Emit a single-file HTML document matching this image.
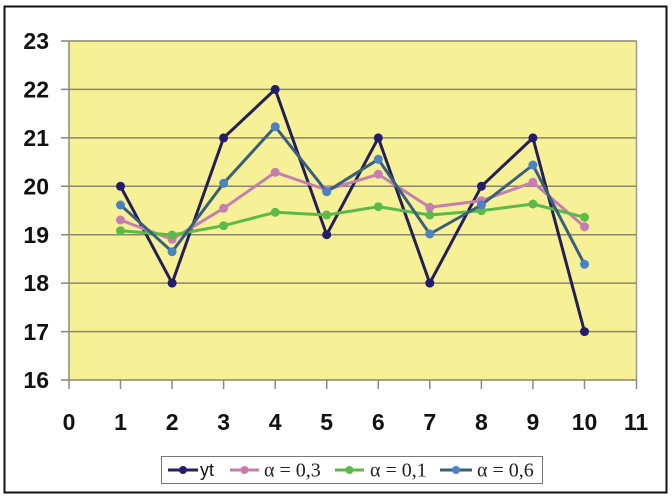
<!DOCTYPE html>
<html><head><meta charset="utf-8"><style>
html,body{margin:0;padding:0;background:#fff;}
svg{display:block;}
</style></head><body>
<svg width="672" height="500" viewBox="0 0 672 500" xmlns="http://www.w3.org/2000/svg">
<rect x="0" y="0" width="672" height="500" fill="#fff"/>
<rect x="4.5" y="6.5" width="662" height="486" fill="#fff" stroke="#111" stroke-width="2"/>
<!-- plot area -->
<rect x="69" y="41" width="567.5" height="339" fill="#f6f096"/>
<g stroke="#8b876a" stroke-width="1.5">
<line x1="61" y1="89.4" x2="636.5" y2="89.4"/>
<line x1="61" y1="137.9" x2="636.5" y2="137.9"/>
<line x1="61" y1="186.3" x2="636.5" y2="186.3"/>
<line x1="61" y1="234.7" x2="636.5" y2="234.7"/>
<line x1="61" y1="283.1" x2="636.5" y2="283.1"/>
<line x1="61" y1="331.6" x2="636.5" y2="331.6"/>
<line x1="61" y1="41" x2="636.5" y2="41"/>
<line x1="61" y1="380" x2="636.5" y2="380"/>
</g>
<line x1="636.5" y1="41" x2="636.5" y2="380" stroke="#9a9a90" stroke-width="1.5"/>
<line x1="69" y1="41" x2="69" y2="389" stroke="#8a8a80" stroke-width="1.5"/>
<g stroke="#8a8a80" stroke-width="1.5">
<line x1="120.5" y1="380" x2="120.5" y2="389"/>
<line x1="172.1" y1="380" x2="172.1" y2="389"/>
<line x1="223.6" y1="380" x2="223.6" y2="389"/>
<line x1="275.2" y1="380" x2="275.2" y2="389"/>
<line x1="326.7" y1="380" x2="326.7" y2="389"/>
<line x1="378.3" y1="380" x2="378.3" y2="389"/>
<line x1="429.8" y1="380" x2="429.8" y2="389"/>
<line x1="481.4" y1="380" x2="481.4" y2="389"/>
<line x1="532.9" y1="380" x2="532.9" y2="389"/>
<line x1="584.5" y1="380" x2="584.5" y2="389"/>
<line x1="636.5" y1="380" x2="636.5" y2="389"/>
</g>
<!-- y labels -->
<g font-family="Liberation Sans, Arial, sans-serif" font-size="23" font-weight="bold" fill="#111" text-anchor="end">
<text x="49" y="49">23</text>
<text x="49" y="97.5">22</text>
<text x="49" y="146">21</text>
<text x="49" y="194.5">20</text>
<text x="49" y="243">19</text>
<text x="49" y="291">18</text>
<text x="49" y="340">17</text>
<text x="49" y="388">16</text>
</g>
<g font-family="Liberation Sans, Arial, sans-serif" font-size="23" font-weight="bold" fill="#111" text-anchor="middle">
<text x="69" y="430">0</text>
<text x="120.5" y="430">1</text>
<text x="172.1" y="430">2</text>
<text x="223.6" y="430">3</text>
<text x="275.2" y="430">4</text>
<text x="326.7" y="430">5</text>
<text x="378.3" y="430">6</text>
<text x="429.8" y="430">7</text>
<text x="481.4" y="430">8</text>
<text x="532.9" y="430">9</text>
<text x="584.5" y="430">10</text>
<text x="636" y="430">11</text>
</g>
<!-- series yt -->
<polyline fill="none" stroke="#261f55" stroke-width="3" stroke-linejoin="round" points="120.5,186.3 172.1,283.1 223.6,137.9 275.2,89.4 326.7,234.7 378.3,137.9 429.8,283.1 481.4,186.3 532.9,137.9 584.5,331.6"/>
<g fill="#241c6c">
<circle cx="120.5" cy="186.3" r="4.5"/><circle cx="172.1" cy="283.1" r="4.5"/><circle cx="223.6" cy="137.9" r="4.5"/><circle cx="275.2" cy="89.4" r="4.5"/><circle cx="326.7" cy="234.7" r="4.5"/><circle cx="378.3" cy="137.9" r="4.5"/><circle cx="429.8" cy="283.1" r="4.5"/><circle cx="481.4" cy="186.3" r="4.5"/><circle cx="532.9" cy="137.9" r="4.5"/><circle cx="584.5" cy="331.6" r="4.5"/>
</g>
<!-- pink 0.3 -->
<polyline fill="none" stroke="#c47fb0" stroke-width="3" stroke-linejoin="round" points="120.5,220 172.1,239.3 223.6,208.3 275.2,172.3 326.7,190 378.3,174.3 429.8,207.3 481.4,200.7 532.9,182.3 584.5,226.7"/>
<g fill="#c87cb2">
<circle cx="120.5" cy="220" r="4.5"/><circle cx="172.1" cy="239.3" r="4.5"/><circle cx="223.6" cy="208.3" r="4.5"/><circle cx="275.2" cy="172.3" r="4.5"/><circle cx="326.7" cy="190" r="4.5"/><circle cx="378.3" cy="174.3" r="4.5"/><circle cx="429.8" cy="207.3" r="4.5"/><circle cx="481.4" cy="200.7" r="4.5"/><circle cx="532.9" cy="182.3" r="4.5"/><circle cx="584.5" cy="226.7" r="4.5"/>
</g>
<!-- green 0.1 -->
<polyline fill="none" stroke="#5cb947" stroke-width="3" stroke-linejoin="round" points="120.5,230.7 172.1,235 223.6,225.7 275.2,212.3 326.7,215 378.3,206.7 429.8,215 481.4,210.7 532.9,204 584.5,217.3"/>
<g fill="#5cbb48">
<circle cx="120.5" cy="230.7" r="4.5"/><circle cx="172.1" cy="235" r="4.5"/><circle cx="223.6" cy="225.7" r="4.5"/><circle cx="275.2" cy="212.3" r="4.5"/><circle cx="326.7" cy="215" r="4.5"/><circle cx="378.3" cy="206.7" r="4.5"/><circle cx="429.8" cy="215" r="4.5"/><circle cx="481.4" cy="210.7" r="4.5"/><circle cx="532.9" cy="204" r="4.5"/><circle cx="584.5" cy="217.3" r="4.5"/>
</g>
<!-- blue 0.6 -->
<polyline fill="none" stroke="#3a5f7c" stroke-width="3" stroke-linejoin="round" points="120.5,205 172.1,251.7 223.6,183.3 275.2,126.7 326.7,191.7 378.3,159.3 429.8,234 481.4,205 532.9,165 584.5,264.3"/>
<g fill="#4a82c4">
<circle cx="120.5" cy="205" r="4.5"/><circle cx="172.1" cy="251.7" r="4.5"/><circle cx="223.6" cy="183.3" r="4.5"/><circle cx="275.2" cy="126.7" r="4.5"/><circle cx="326.7" cy="191.7" r="4.5"/><circle cx="378.3" cy="159.3" r="4.5"/><circle cx="429.8" cy="234" r="4.5"/><circle cx="481.4" cy="205" r="4.5"/><circle cx="532.9" cy="165" r="4.5"/><circle cx="584.5" cy="264.3" r="4.5"/>
</g>
<!-- legend -->
<rect x="161.5" y="456.5" width="381" height="27" fill="#fff" stroke="#777" stroke-width="1"/>
<line x1="168" y1="470" x2="198" y2="470" stroke="#261f55" stroke-width="3"/>
<circle cx="183" cy="470" r="4" fill="#241c6c"/>
<text x="200" y="476" font-family="Liberation Sans, Arial, sans-serif" font-size="18" fill="#111">yt</text>
<line x1="230" y1="470" x2="259" y2="470" stroke="#c47fb0" stroke-width="3"/>
<circle cx="244.5" cy="470" r="4" fill="#c87cb2"/>
<text x="264" y="476.5" font-family="Liberation Serif, Times New Roman, serif" font-size="20" fill="#222">α = 0,3</text>
<line x1="335" y1="470" x2="364" y2="470" stroke="#5cb947" stroke-width="3"/>
<circle cx="349.5" cy="470" r="4" fill="#5cbb48"/>
<text x="370" y="476.5" font-family="Liberation Serif, Times New Roman, serif" font-size="20" fill="#222">α = 0,1</text>
<line x1="440" y1="470" x2="472" y2="470" stroke="#3a5f7c" stroke-width="3"/>
<circle cx="456" cy="470" r="4" fill="#4a82c4"/>
<text x="477" y="476.5" font-family="Liberation Serif, Times New Roman, serif" font-size="20" fill="#222">α = 0,6</text>
</svg>
</body></html>
